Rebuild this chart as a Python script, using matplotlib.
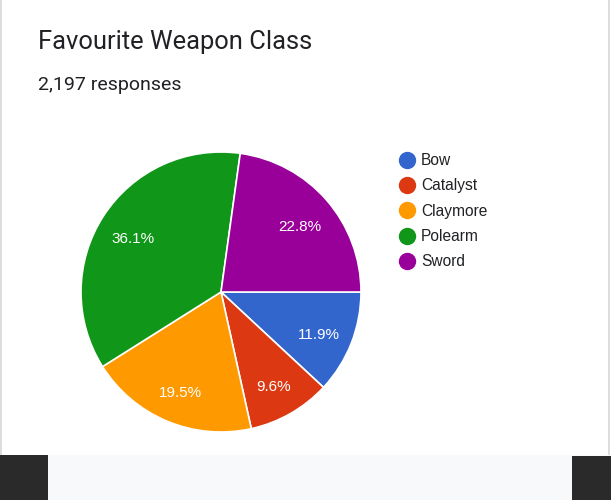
import matplotlib
matplotlib.use("Agg")
import matplotlib.pyplot as plt
from matplotlib.patches import Rectangle
from matplotlib.lines import Line2D

plt.rcParams['font.family'] = ['Roboto', 'DejaVu Sans']

# данные опроса
classes = ['Bow', 'Catalyst', 'Claymore', 'Polearm', 'Sword']
counts = [262, 211, 429, 794, 501]
colors = ['#3366cc', '#dc3912', '#ff9900', '#109618', '#990099']
title = 'Favourite Weapon Class'
subtitle = '2,197 responses'

fig = plt.figure(figsize=(6.11, 5.0), dpi=100)
fig.patch.set_facecolor('white')

# рамка карточки и нижняя полоса скриншота
fig.patches.append(Rectangle((0, 45/500), 1.5/611, 455/500, transform=fig.transFigure,
                             facecolor='#dadce0', edgecolor='none', zorder=0))
fig.patches.append(Rectangle((608/611, 45/500), 1.5/611, 455/500, transform=fig.transFigure,
                             facecolor='#dadce0', edgecolor='none', zorder=0))
fig.patches.append(Rectangle((0, 0), 1, 45/500, transform=fig.transFigure,
                             facecolor='#f8f9fa', edgecolor='none', zorder=0))
fig.patches.append(Rectangle((0, 0), 48/611, 45/500, transform=fig.transFigure,
                             facecolor='#2a2a2a', edgecolor='none', zorder=1))
fig.patches.append(Rectangle((572/611, 0), 39/611, 44/500, transform=fig.transFigure,
                             facecolor='#2a2a2a', edgecolor='none', zorder=1))

fig.text(38/611, 1 - 42/500, title, fontsize=18.4, color='#202124', va='center', ha='left')
fig.text(38/611, 1 - 85/500, subtitle, fontsize=14, color='#202124', va='center', ha='left')

ax = fig.add_axes([81/611, 68/500, 280/611, 280/500])
wedges, texts, autotexts = ax.pie(
    counts, colors=colors, startangle=0, counterclock=False,
    autopct='%1.1f%%', pctdistance=0.75,
    wedgeprops=dict(edgecolor='white', linewidth=1.2),
    textprops=dict(color='white', fontsize=11, family=['Liberation Sans', 'DejaVu Sans']))
for t in autotexts:
    x, y = t.get_position()
    t.set_position((x, y - 0.03))
ax.set_xlim(-1, 1)
ax.set_ylim(-1, 1)
ax.set_aspect('equal')
ax.axis('off')

handles = [Line2D([0], [0], marker='o', linestyle='none', markersize=11.5,
                  markerfacecolor=c, markeredgecolor=c) for c in colors]
fig.legend(handles, classes, loc='upper left', bbox_to_anchor=(392/611, 1 - 147/500),
           frameon=False, handletextpad=0.35, labelspacing=0.66,
           handlelength=1.1, borderaxespad=0, labelcolor='#202124',
           prop=dict(family=['Liberation Sans', 'DejaVu Sans'], size=11.2))

fig.savefig('out.png', dpi=100)
